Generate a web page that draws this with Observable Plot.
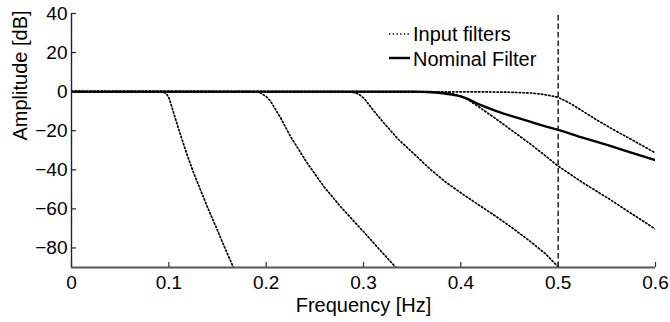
<!DOCTYPE html>
<html>
<head>
<meta charset="utf-8">
<script src="https://cdn.jsdelivr.net/npm/d3@7"></script>
<script src="https://cdn.jsdelivr.net/npm/@observablehq/plot@0.6"></script>
<style>
  body { margin: 0; background: #fff; }
  #wrap { position: relative; width: 670px; height: 322px; font-family: "Liberation Sans", Arial, sans-serif; }
  #legend { position: absolute; left: 0; top: 0; pointer-events: none; }
</style>
</head>
<body>
<div id="wrap"></div>
<script>
// ---- Data (frequency [Hz], amplitude [dB]) ----
const inputFilter1 = [[0,0],[0.09,0],[0.095,-0.3],[0.098,-1.5],[0.1,-3],[0.102,-6],[0.105,-11],[0.11,-19],[0.1155,-27.5],[0.12,-34],[0.125,-41],[0.1327,-50.5],[0.14,-59.5],[0.15,-71],[0.158,-80.5],[0.1664,-90],[0.17,-94]];
const inputFilter2 = [[0,0],[0.185,0],[0.193,-0.3],[0.2,-2.5],[0.204,-4.5],[0.208,-7.8],[0.215,-13.5],[0.2253,-23.2],[0.2425,-36.8],[0.2596,-48.8],[0.2767,-59],[0.2956,-69.3],[0.3007,-72],[0.315,-80],[0.3333,-90],[0.34,-93.5]];
const inputFilter3 = [[0,0],[0.28,0],[0.2888,-0.3],[0.295,-1.2],[0.3007,-3.5],[0.31,-9.5],[0.32,-15.5],[0.335,-24],[0.35,-31],[0.3693,-40],[0.385,-46.5],[0.4036,-53],[0.42,-58.5],[0.438,-64.5],[0.455,-70.5],[0.4722,-77],[0.487,-83],[0.4997,-89.5],[0.505,-93]];
const inputFilter4 = [[0,0],[0.37,0],[0.38,-0.2],[0.39,-0.8],[0.4,-2.2],[0.407,-4],[0.42,-8.3],[0.438,-14.6],[0.455,-20.8],[0.472,-27],[0.486,-32.5],[0.4997,-38],[0.525,-46.5],[0.551,-54.5],[0.575,-62.3],[0.6,-70.4]];
const inputFilter5 = [[0,0],[0.42,-0.1],[0.45,-0.3],[0.472,-0.7],[0.485,-1.4],[0.4997,-2.9],[0.51,-5.3],[0.5237,-9.5],[0.54,-14.6],[0.558,-19.8],[0.58,-25.8],[0.6,-31.4]];
const nominalFilter = [[0,0],[0.35,0],[0.37,-0.3],[0.385,-1.1],[0.4036,-3],[0.42,-6.8],[0.438,-10.2],[0.455,-12.9],[0.472,-15.5],[0.486,-17.6],[0.5,-19.6],[0.525,-23.5],[0.551,-27.4],[0.575,-31.2],[0.6,-35.1]];
const nyquistLine = [0.5];

const xTicks = [0, 0.1, 0.2, 0.3, 0.4, 0.5, 0.6];
const xTickLabels = ["0", "0.1", "0.2", "0.3", "0.4", "0.5", "0.6"];
const yTicks = [40, 20, 0, -20, -40, -60, -80];
const yTickLabels = ["40", "20", "0", "\u221220", "\u221240", "\u221260", "\u221280"];
const xDomain = [0, 0.6];
const yDomain = [-90, 40];
const xTitle = "Frequency [Hz]";
const yTitle = "Amplitude [dB]";
const legendLabels = ["Input filters", "Nominal Filter"];

const inputFilters = [inputFilter1, inputFilter2, inputFilter3, inputFilter4, inputFilter5];
const inputRows = inputFilters.flatMap((arr, i) => arr.map(([f, a]) => ({f, a, id: i})));
const nominalRows = nominalFilter.map(([f, a]) => ({f, a}));

const font = "Liberation Sans, Arial, sans-serif";
const dotted = "1.4,2.3";

const plot = Plot.plot({
  width: 670,
  height: 322,
  marginLeft: 71,
  marginRight: 15,
  marginTop: 13,
  marginBottom: 55,
  style: {fontFamily: font, fontSize: "19px", background: "white", overflow: "visible", color: "#000"},
  x: {domain: xDomain},
  y: {domain: yDomain},
  marks: [
    Plot.line(inputRows, {x: "f", y: "a", z: "id", stroke: "#000", strokeWidth: 1.7, strokeDasharray: dotted, curve: "linear", clip: true}),
    Plot.line(nominalRows, {x: "f", y: "a", stroke: "#000", strokeWidth: 2.4, curve: "monotone-x", clip: true}),
    Plot.ruleX(nyquistLine, {y1: yDomain[0], y2: yDomain[1], stroke: "#000", strokeWidth: 1.3, strokeDasharray: "5.5,3"}),
    Plot.ruleX([xDomain[0]], {y1: yDomain[0], y2: yDomain[1], stroke: "#222", strokeWidth: 1.4}),
    Plot.ruleY([yDomain[0]], {x1: xDomain[0], x2: xDomain[1], stroke: "#555", strokeWidth: 2}),
    Plot.axisX({ticks: xTicks, tickFormat: (d) => xTickLabels[xTicks.indexOf(d)], tickSize: -5, tickPadding: 13, label: null, stroke: "#333", strokeWidth: 1.2, fill: "#000"}),
    Plot.axisY({ticks: yTicks, tickFormat: (d) => yTickLabels[yTicks.indexOf(d)], tickSize: -5, tickPadding: 9, label: null, stroke: "#222", strokeWidth: 1.2, fill: "#000"}),
    Plot.text([xTitle], {frameAnchor: "bottom", dy: 44, lineAnchor: "bottom", fontSize: 20, fill: "#000"}),
    Plot.text([yTitle], {frameAnchor: "left", dx: -51, rotate: -90, lineAnchor: "middle", fontSize: 20, fill: "#000"})
  ]
});

const wrap = document.getElementById("wrap");
wrap.appendChild(plot);

// Legend overlay
const lg = d3.select(wrap).append("svg")
  .attr("id", "legend")
  .attr("width", 670).attr("height", 322)
  .style("font-family", font);
const styles = [{dash: dotted, w: 1.5}, {dash: null, w: 2.4}];
legendLabels.forEach((lab, i) => {
  const yLine = i === 0 ? 34 : 58;
  const yText = i === 0 ? 41 : 66;
  lg.append("line").attr("x1", 389).attr("x2", 410).attr("y1", yLine).attr("y2", yLine)
    .attr("stroke", "#000").attr("stroke-width", styles[i].w)
    .attr("stroke-dasharray", styles[i].dash);
  lg.append("text").attr("x", 413).attr("y", yText).attr("font-size", 20).attr("fill", "#000").text(lab);
});
</script>
</body>
</html>
